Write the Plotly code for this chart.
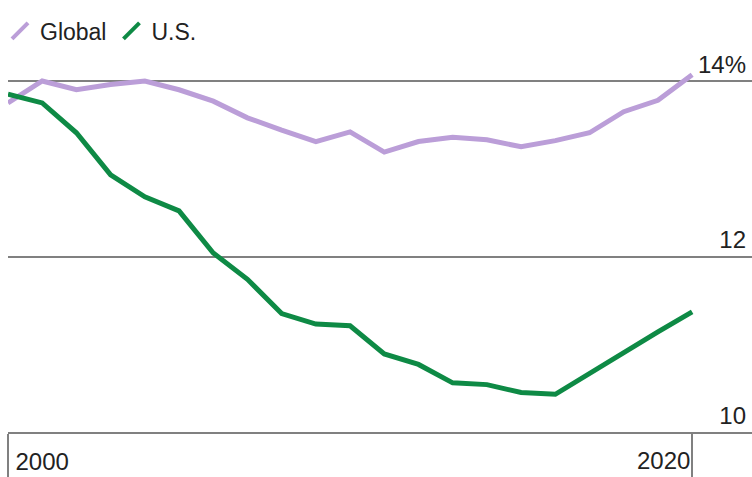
import plotly.graph_objects as go

years = list(range(2000, 2021))
global_vals = [13.75, 14.00, 13.90, 13.96, 14.00, 13.90, 13.77, 13.58, 13.44, 13.31, 13.42,
               13.19, 13.31, 13.36, 13.33, 13.25, 13.32, 13.41, 13.65, 13.78, 14.07]
us_vals = [13.85, 13.75, 13.41, 12.93, 12.68, 12.52, 12.04, 11.74, 11.35, 11.23, 11.21,
           10.89, 10.77, 10.56, 10.54, 10.45, 10.43, 10.67, 10.90, 11.14, 11.37]

y_tickvals = [10, 12, 14]
y_ticktext = ["10", "12", "14%"]

PURPLE = "#bb9ed8"
GREEN = "#0e8a45"
GRID = "#808080"
TEXT = "#222222"
FONT = "Liberation Sans, Arial, sans-serif"

fig = go.Figure()
fig.add_trace(go.Scatter(x=years, y=global_vals, mode="lines", name="Global",
                         line=dict(color=PURPLE, width=5), showlegend=False))
fig.add_trace(go.Scatter(x=years, y=us_vals, mode="lines", name="U.S.",
                         line=dict(color=GREEN, width=5), showlegend=False))
# legend entries with slash symbols
fig.add_trace(go.Scatter(x=[None], y=[None], mode="markers", name="Global",
                         marker=dict(symbol="line-ne", size=18, line=dict(color=PURPLE, width=4))))
fig.add_trace(go.Scatter(x=[None], y=[None], mode="markers", name="U.S.",
                         marker=dict(symbol="line-ne", size=18, line=dict(color=GREEN, width=4))))
# second x axis for the right-hand year label
fig.add_trace(go.Scatter(x=[years[-1]], y=[None], xaxis="x2", showlegend=False, hoverinfo="skip"))

x_range = [2000, 2021.75]
fig.update_layout(
    width=752, height=477,
    margin=dict(l=8, r=0, t=45, b=45, autoexpand=False),
    paper_bgcolor="white", plot_bgcolor="white",
    font=dict(family=FONT, size=24, color=TEXT),
    legend=dict(orientation="h", x=-0.019, y=1 - 31 / 477, xref="container", yref="container",
                xanchor="left", yanchor="middle",
                font=dict(size=23, color=TEXT), itemwidth=30, tracegroupgap=0,
                bgcolor="rgba(0,0,0,0)"),
    xaxis=dict(range=x_range, tickvals=[2000], ticktext=["2000"],
               ticks="outside", ticklen=45, tickwidth=1.5, tickcolor=GRID,
               ticklabelposition="outside right", ticklabelstandoff=7, ticklabelshift=6,
               showgrid=False, zeroline=False,
               showline=True, linecolor=GRID, linewidth=1.5, tickfont=dict(size=24, color=TEXT)),
    xaxis2=dict(range=x_range, overlaying="x", side="bottom", tickvals=[2020], ticktext=["2020"],
                ticks="outside", ticklen=45, tickwidth=1.5, tickcolor=GRID,
                ticklabelposition="outside left", ticklabelstandoff=7, ticklabelshift=-1,
                showgrid=False, zeroline=False,
                showline=False, tickfont=dict(size=24, color=TEXT)),
    yaxis=dict(range=[10, 14 + 36 / 87.75], tickvals=y_tickvals, ticktext=y_ticktext, side="right",
               ticklabelposition="inside top", ticklabelstandoff=3,
               showgrid=True, gridcolor=GRID, gridwidth=1.5,
               zeroline=False, showline=False, ticks="", tickfont=dict(size=24, color=TEXT)),
)

fig.write_html("out.html")
